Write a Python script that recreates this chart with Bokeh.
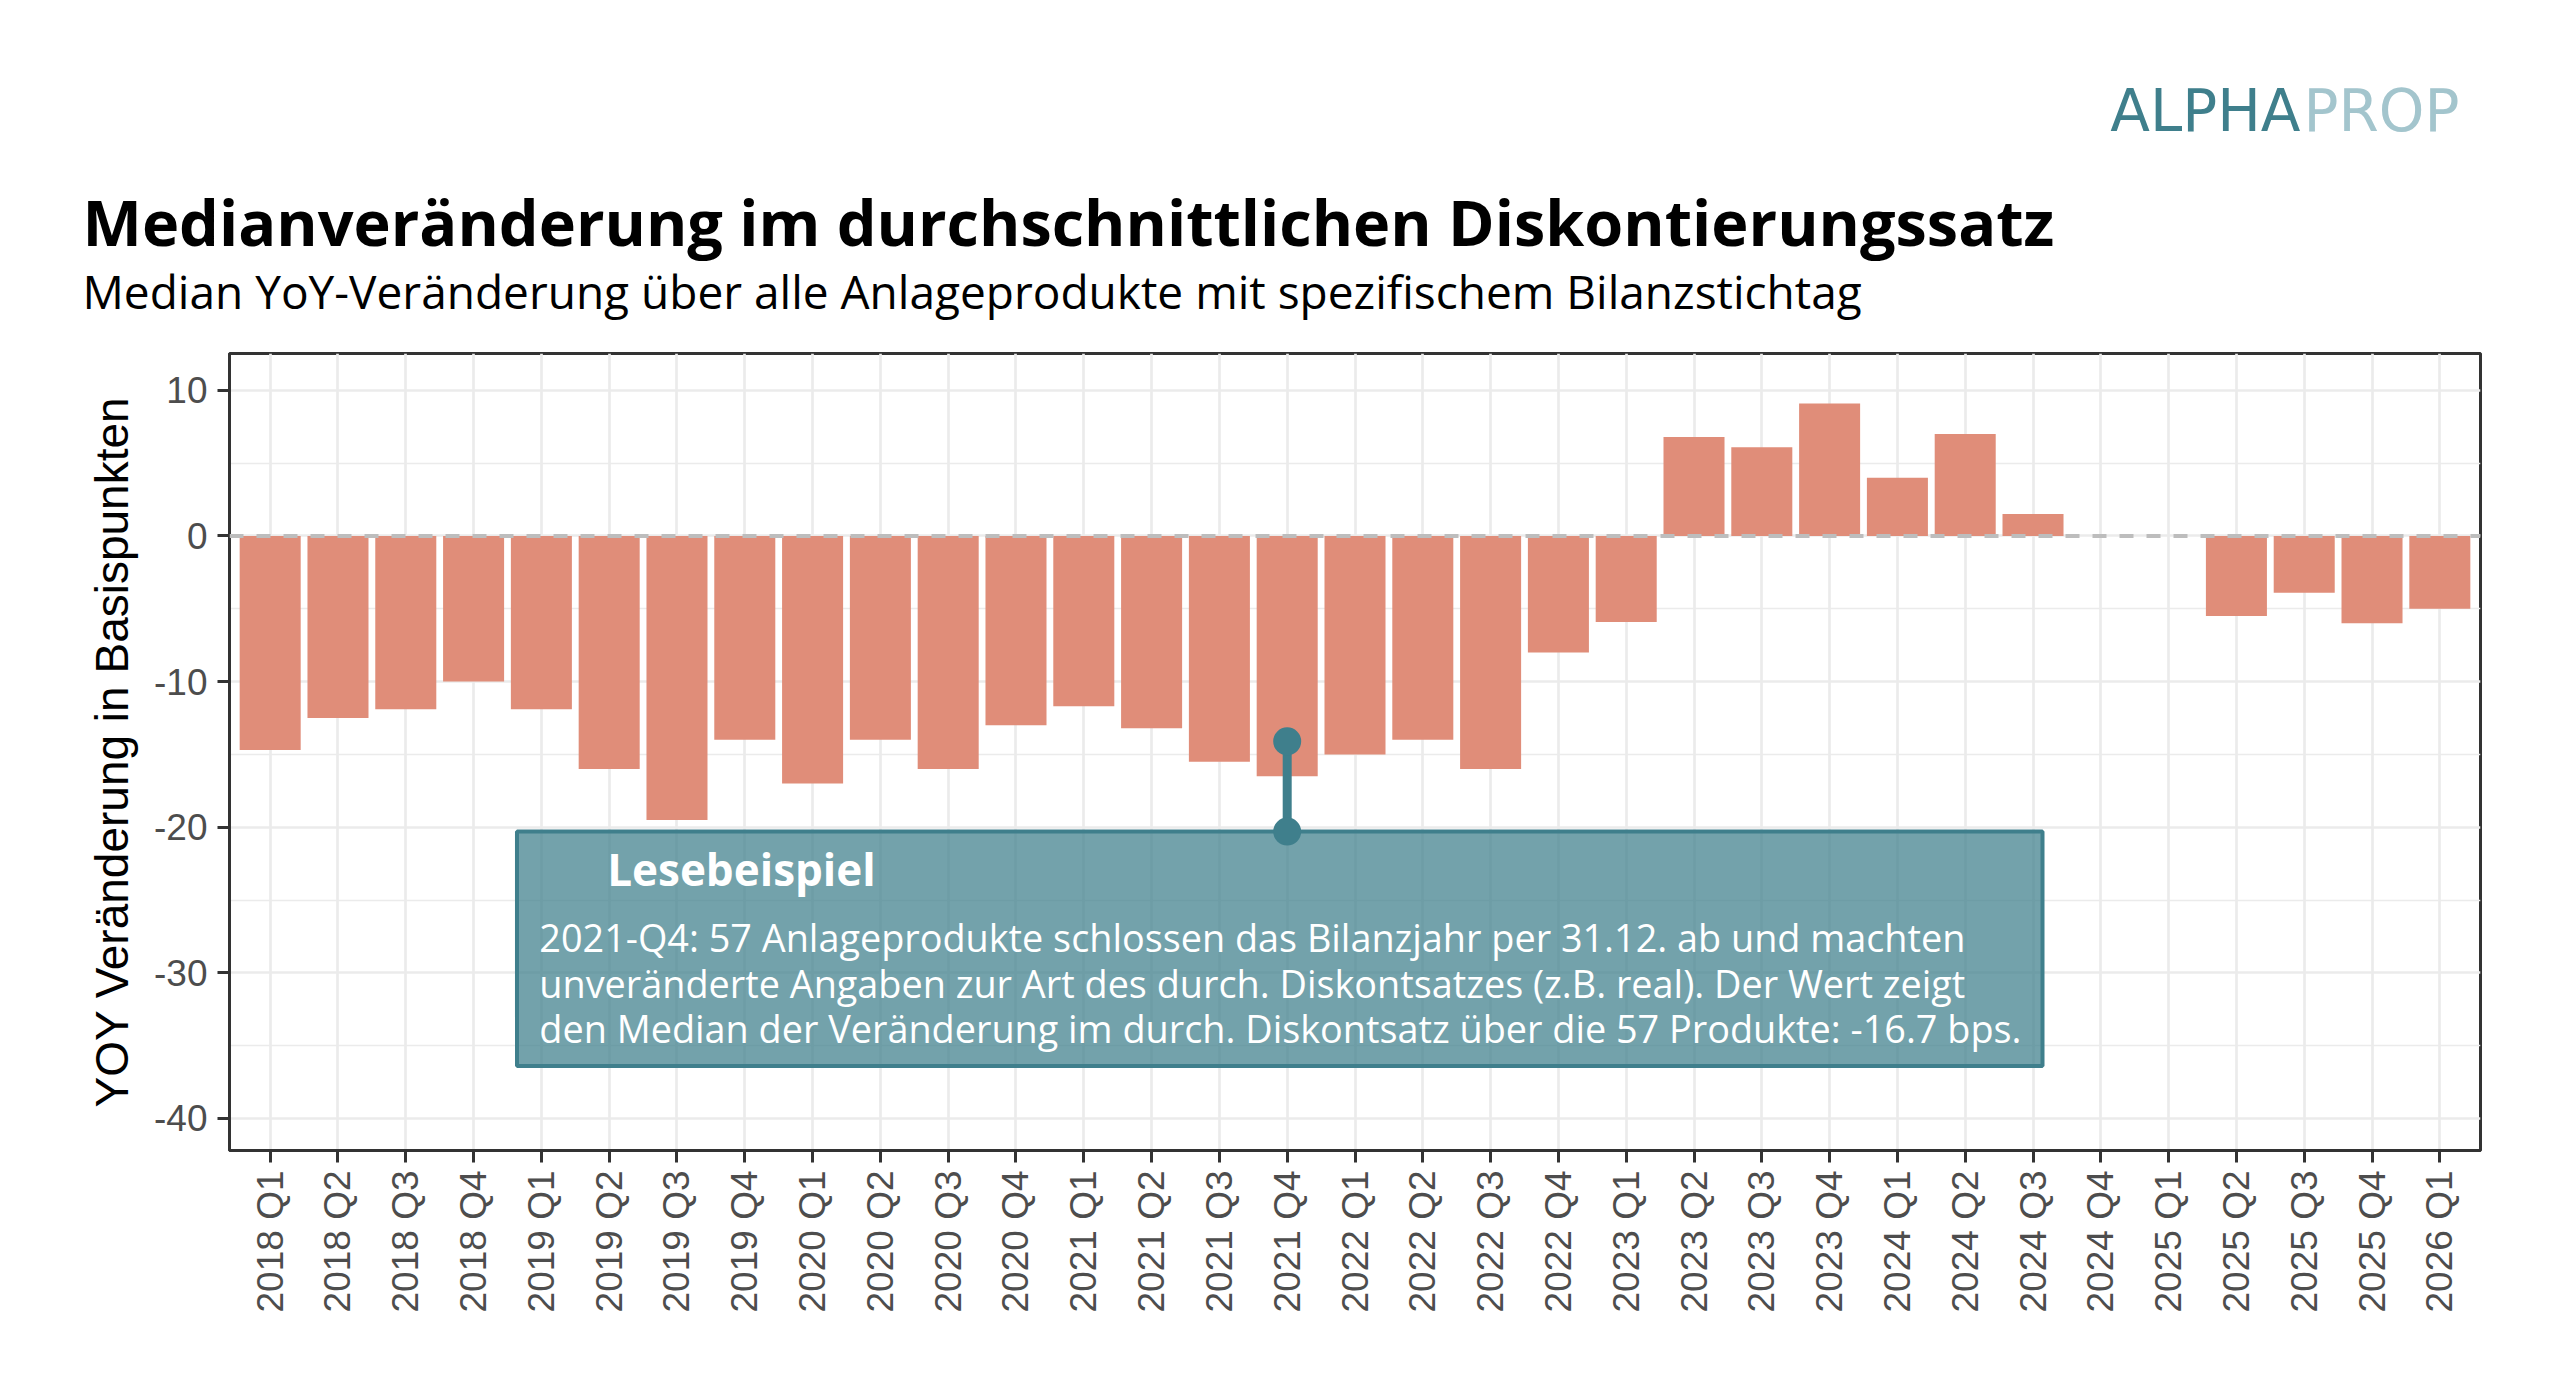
from math import pi

from bokeh.plotting import figure
from bokeh.layouts import column
from bokeh.models import Range1d, FixedTicker, Span, Title
from bokeh.core.properties import value
from bokeh.embed import file_html
from bokeh.resources import INLINE

# quarters and median YoY change of the discount rate (basis points)
quarters = [
    "2018 Q1", "2018 Q2", "2018 Q3", "2018 Q4",
    "2019 Q1", "2019 Q2", "2019 Q3", "2019 Q4",
    "2020 Q1", "2020 Q2", "2020 Q3", "2020 Q4",
    "2021 Q1", "2021 Q2", "2021 Q3", "2021 Q4",
    "2022 Q1", "2022 Q2", "2022 Q3", "2022 Q4",
    "2023 Q1", "2023 Q2", "2023 Q3", "2023 Q4",
    "2024 Q1", "2024 Q2", "2024 Q3", "2024 Q4",
    "2025 Q1", "2025 Q2", "2025 Q3", "2025 Q4",
    "2026 Q1",
]
yoy_change = [
    -14.7, -12.5, -11.9, -10.0,
    -11.9, -16.0, -19.5, -14.0,
    -17.0, -14.0, -16.0, -13.0,
    -11.7, -13.2, -15.5, -16.5,
    -15.0, -14.0, -16.0, -8.0,
    -5.9, 6.8, 6.1, 9.1,
    4.0, 7.0, 1.5, None,
    None, -5.5, -3.9, -6.0,
    -5.0,
]
y_ticks = [-40, -30, -20, -10, 0, 10]
y_minor = [-35, -25, -15, -5, 5]

title = "Medianveränderung im durchschnittlichen Diskontierungssatz"
subtitle = "Median YoY-Veränderung über alle Anlageprodukte mit spezifischem Bilanzstichtag"
y_label = "YOY Veränderung in Basispunkten"

# reading example ("Lesebeispiel") for 2021 Q4
example_quarter = "2021 Q4"
example_pin = (-14.1, -20.3)
note_box = dict(left=3.64, right=26.14, top=-20.3, bottom=-36.4)
note_title = "Lesebeispiel"
note_lines = [
    "2021-Q4: 57 Anlageprodukte schlossen das Bilanzjahr per 31.12. ab und machten",
    "unveränderte Angaben zur Art des durch. Diskontsatzes (z.B. real). Der Wert zeigt",
    "den Median der Veränderung im durch. Diskontsatz über die 57 Produkte: -16.7 bps.",
]

BAR = "#E08D79"
TEAL = "#3F7F8C"
LIGHT_TEAL = "#A3C5CD"
GRID = "#EBEBEB"

W = 2544
HEAD_H = 150
LEFT, RIGHT = 229, 64

# logo strip (its frame lines up with the chart frame)
head = figure(width=W, height=HEAD_H, output_backend="svg", toolbar_location=None,
              x_range=Range1d(LEFT, W - RIGHT), y_range=Range1d(0, HEAD_H),
              x_axis_location=None, y_axis_location=None, min_border=0,
              min_border_left=LEFT, min_border_right=RIGHT)
head.outline_line_color = None
head.grid.visible = False
head.text(x=[2300], y=[40], text=["ALPHA"], text_font=value("DejaVu Sans"),
          text_font_size=value("58px"), text_color=TEAL,
          text_baseline="middle", text_align="right")
head.text(x=[2303], y=[40], text=["PROP"], text_font=value("DejaVu Sans"),
          text_font_size=value("58px"), text_color=LIGHT_TEAL,
          text_baseline="middle", text_align="left")

# main chart
p = figure(width=W, height=1382 - HEAD_H, output_backend="svg", toolbar_location=None,
           x_range=Range1d(-0.6, len(quarters) - 0.4), y_range=Range1d(-42.2, 12.53),
           min_border_left=LEFT, min_border_right=RIGHT, min_border_top=353 - HEAD_H,
           min_border_bottom=232)
p.background_fill_color = "white"
p.border_fill_color = "white"
p.outline_line_color = "#333333"
p.outline_line_width = 3

p.add_layout(Title(text=subtitle, align="left", offset=-147, vertical_align="bottom",
                   standoff=64, text_font="Open Sans", text_font_size="46px",
                   text_font_style="normal", text_color="black"), "above")
p.add_layout(Title(text=title, align="left", offset=-147, vertical_align="bottom",
                   standoff=-77, text_font="Open Sans", text_font_size="63px",
                   text_font_style="bold", text_color="black"), "above")

xs = [i for i, v in enumerate(yoy_change) if v is not None]
tops = [v for v in yoy_change if v is not None]
p.vbar(x=xs, top=tops, bottom=0, width=0.9, fill_color=BAR, line_color=None)

p.add_layout(Span(location=0, dimension="width", line_color="#BDBDBD",
                  line_width=4, line_dash="14 13"))

# note box
p.quad(left=[note_box["left"]], right=[note_box["right"]],
       top=[note_box["top"]], bottom=[note_box["bottom"]],
       fill_color=TEAL, fill_alpha=0.73, line_color=TEAL, line_width=4)

ex = quarters.index(example_quarter)
p.segment(x0=[ex], y0=[example_pin[0]], x1=[ex], y1=[example_pin[1]],
          line_color=TEAL, line_width=9)
p.scatter(x=[ex, ex], y=list(example_pin), size=28, fill_color=TEAL, line_color=None)

p.text(x=[note_box["left"] + 1.33], y=[-22.9], text=[note_title],
       text_font=value("Open Sans"), text_font_style="bold",
       text_font_size=value("44px"), text_color="white",
       text_baseline="middle", text_align="left")
p.text(x=[note_box["left"] + 0.33] * 3, y=[-27.6, -30.7, -33.8], text=note_lines,
       text_font=value("Open Sans"), text_font_size=value("37.8px"),
       text_color="white", text_baseline="middle", text_align="left")

# axes
xt = FixedTicker(ticks=list(range(len(quarters))))
yt = FixedTicker(ticks=y_ticks, minor_ticks=y_minor)
p.xaxis.ticker = xt
p.yaxis.ticker = yt
p.xgrid.ticker = xt
p.ygrid.ticker = yt
p.xaxis.major_label_overrides = {i: q for i, q in enumerate(quarters)}
p.yaxis.major_label_overrides = {t: str(t) for t in y_ticks}
p.xaxis.major_label_orientation = pi / 2

for ax in (p.xaxis, p.yaxis):
    ax.axis_line_color = "#333333"
    ax.axis_line_width = 3
    ax.major_tick_line_color = "#333333"
    ax.major_tick_line_width = 3
    ax.major_tick_out = 12
    ax.major_tick_in = 0
    ax.minor_tick_line_color = None
    ax.major_label_text_font = "Liberation Sans"
    ax.major_label_text_font_size = "37px"
    ax.major_label_text_color = "#4D4D4D"
p.xaxis.major_label_standoff = 8
p.yaxis.major_label_standoff = 10

p.yaxis.axis_label = y_label
p.yaxis.axis_label_text_font = "Liberation Sans"
p.yaxis.axis_label_text_font_size = "46px"
p.yaxis.axis_label_text_font_style = "normal"
p.yaxis.axis_label_text_color = "black"
p.yaxis.axis_label_standoff = 13

p.xgrid.grid_line_color = GRID
p.xgrid.grid_line_width = 2.7
p.ygrid.grid_line_color = GRID
p.ygrid.grid_line_width = 2.7
p.ygrid.minor_grid_line_color = GRID
p.ygrid.minor_grid_line_width = 1.4

layout = column(head, p, spacing=0)
open("out.html", "w").write(file_html(layout, INLINE))
